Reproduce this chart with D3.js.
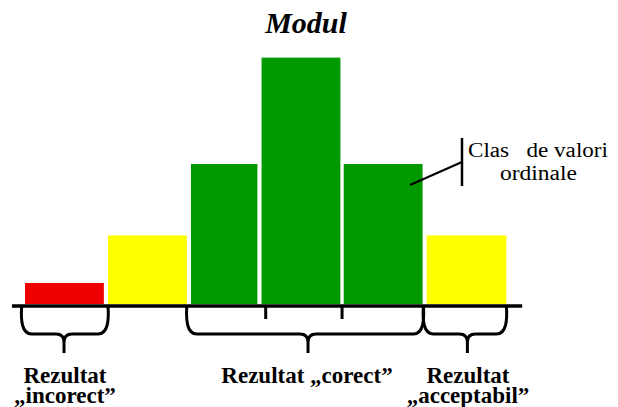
<!DOCTYPE html>
<html><head><meta charset="utf-8">
<script src="https://cdn.jsdelivr.net/npm/d3@7"></script>
</head><body style="margin:0">
<svg id="c" width="618" height="407"></svg>
<script>
// Data (class bounds in class units, frequencies)
const classes = ["c1","c2","c3","c4","c5","c6"];
const classStart = [0, 1, 2, 2.85, 3.84, 4.84];
const classEnd   = [0.95, 1.95, 2.8, 3.8, 4.79, 5.8];
const freq = [1.5, 4.9, 10, 17.6, 10, 4.9];
const colors = ["#ee0000","#ffff00","#009900","#009900","#009900","#ffff00"];
const tickValues = [2.9, 3.82];
const groupStart = [-0.04, 1.95, 4.8];
const groupEnd = [1.0, 4.8, 5.8];
const groupTip = [0.47, 3.41, 5.33];
const groupLabel1 = ["Rezultat", "Rezultat „corect”", "Rezultat"];
const groupLabel2 = ["„incorect”", "", "„acceptabil”"];
const chartTitle = "Modul";
const noteLines = ["Clas\u00a0\u00a0\u00a0de valori", "ordinale"];

(function(){
  const root = d3.select("#c");
  const sx = d3.scaleLinear().domain([0, 6]).range([25, 523]);
  const sy = d3.scaleLinear().domain([0, 20]).range([304, 24]);

  const texts = [
    {t: chartTitle, x: 306, y: 33, size: 30, w: "bold", s: "italic", a: "middle"},
    ...groupLabel1.map((t,i)=>({t, x:[65,307,468][i], y:383, size:23, w:"bold", a:"middle"})),
    ...groupLabel2.filter(t=>t).map((t,i)=>({t, x:[65,468][i], y:403, size:23, w:"bold", a:"middle"})),
    {t: noteLines[0], x: 468, y: 157, size: 20, a: "start", len: 140},
    {t: noteLines[1], x: 500, y: 180, size: 20, a: "start", len: 77}
  ];
  root.selectAll("text").data(texts).join("text")
    .attr("x", d=>d.x).attr("y", d=>d.y).attr("text-anchor", d=>d.a)
    .attr("font-family", "Liberation Serif").attr("font-size", d=>d.size)
    .attr("font-weight", d=>d.w || "normal").attr("font-style", d=>d.s || "normal")
    .attr("textLength", d=>d.len || null).attr("lengthAdjust", d=>d.len ? "spacingAndGlyphs" : null)
    .text(d=>d.t);

  root.selectAll("rect.bar").data(freq).join("rect").attr("class","bar")
    .attr("x", (d,i)=>sx(classStart[i]))
    .attr("width", (d,i)=>sx(classEnd[i]) - sx(classStart[i]))
    .attr("y", d=>sy(d)).attr("height", d=>sy(0)-sy(d))
    .attr("fill", (d,i)=>colors[i]);

  const axisY = sy(0) + 2;
  root.append("line").attr("x1", sx(-0.157)).attr("x2", sx(5.99)).attr("y1", axisY).attr("y2", axisY)
    .attr("stroke","#000").attr("stroke-width",3.5);
  root.selectAll("line.tk").data(tickValues).join("line").attr("class","tk")
    .attr("x1", d=>sx(d)).attr("x2", d=>sx(d)).attr("y1", axisY).attr("y2", axisY+13)
    .attr("stroke","#000").attr("stroke-width",3);

  const ym = 334, ytip = 353, r = 8;
  function brace(x0, x1, xc){
    return `M${x0},${axisY} C${x0-1},${ym-14} ${x0},${ym} ${x0+r+2},${ym} L${xc-r},${ym} Q${xc},${ym} ${xc},${ym+r} L${xc},${ytip}`+
           ` M${xc},${ym+r} Q${xc},${ym} ${xc+r},${ym} L${x1-r-2},${ym} C${x1},${ym} ${x1+1},${ym-14} ${x1},${axisY}`;
  }
  root.selectAll("path.brace").data(groupStart).join("path").attr("class","brace")
    .attr("d", (d,i)=>brace(sx(d), sx(groupEnd[i]), sx(groupTip[i])))
    .attr("fill","none").attr("stroke","#000").attr("stroke-width",3);

  root.append("line").attr("x1",410).attr("y1",185).attr("x2",462).attr("y2",162).attr("stroke","#000").attr("stroke-width",2);
  root.append("line").attr("x1",462).attr("y1",138).attr("x2",462).attr("y2",186).attr("stroke","#000").attr("stroke-width",2.5);
})();
</script>
</body></html>
